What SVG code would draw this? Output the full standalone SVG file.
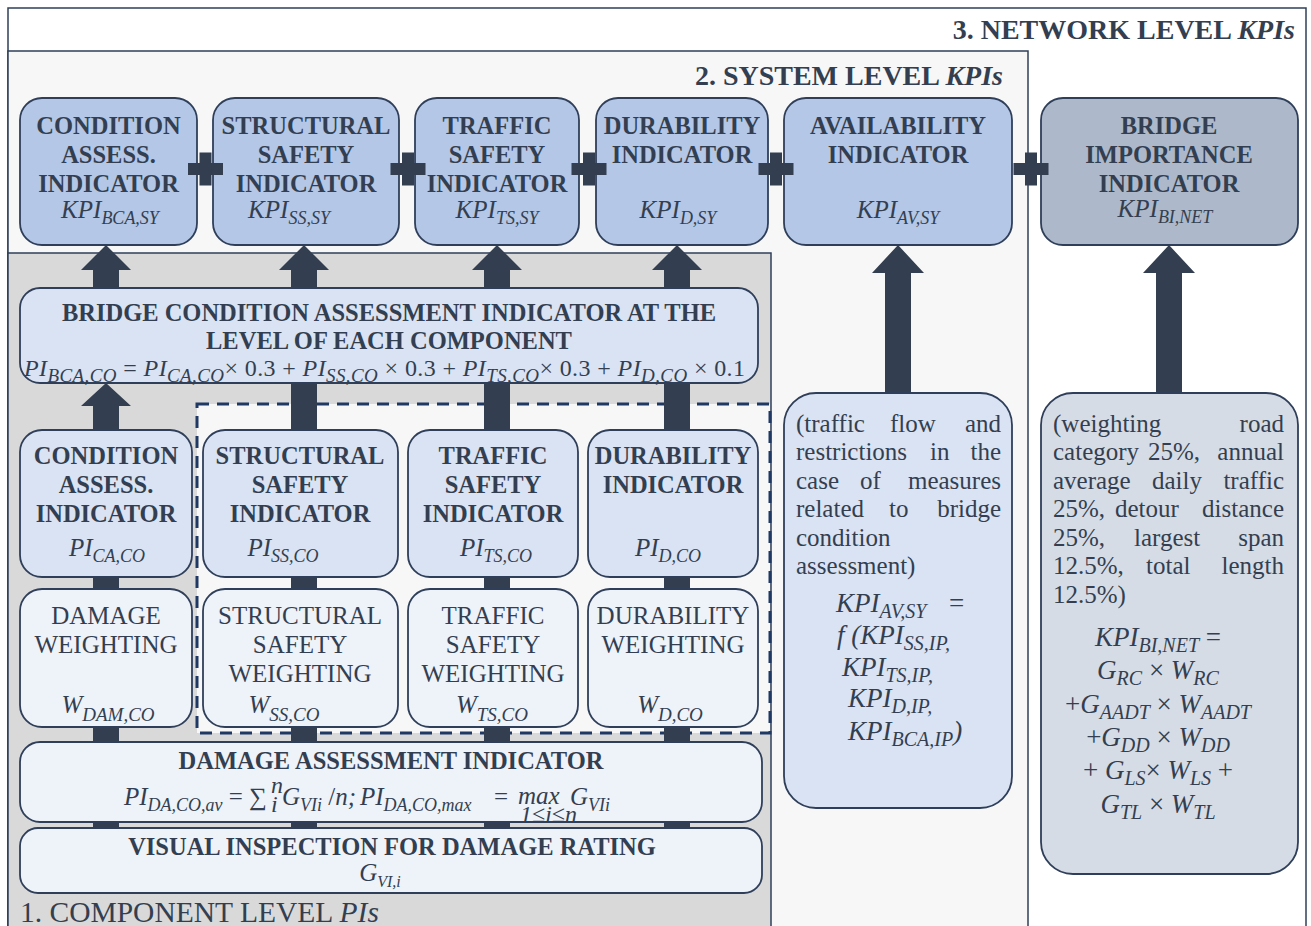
<svg xmlns="http://www.w3.org/2000/svg" width="1311" height="926" viewBox="0 0 1311 926">
<style>
text{font-family:"Liberation Serif","Times New Roman",serif;fill:#333f50}
.b{font-weight:bold;font-size:24.5px;text-anchor:middle}
.r{font-size:25px;text-anchor:middle}
.p{font-size:25px}
.e{font-size:25px;text-anchor:end}
.m{font-style:italic;font-size:27px}
.mc{font-style:italic;font-size:25px;text-anchor:middle}
.mb{font-style:italic;font-size:27px;text-anchor:middle}
.f{font-style:italic;font-size:24px}
.fd{font-style:italic;font-size:25px}
.s{font-size:18px}
.s2{font-size:20px}
.s3{font-size:19px}
.u{font-style:normal}
.t1{fill:#b4c7e7;stroke:#2f3f5a;stroke-width:1.8}
.t2{fill:#dae3f3;stroke:#2f3f5a;stroke-width:1.8}
.t3{fill:#eef2f9;stroke:#2f3f5a;stroke-width:1.8}
.g1{fill:#adb9ca;stroke:#2f3f5a;stroke-width:1.8}
.g2{fill:#d6dce5;stroke:#2f3f5a;stroke-width:1.8}
.k{fill:#333f50}
</style>
<defs>
<g id="plus"><rect x="-17.5" y="-6" width="35" height="12"/><rect x="-6" y="-16.5" width="12" height="33"/></g>
</defs>
<rect width="1311" height="926" fill="#ffffff"/>
<g id="frames">
<rect x="8" y="8" width="1298" height="940" fill="#ffffff" stroke="#2f3f5a" stroke-width="1.5"/>
<rect x="8" y="51" width="1020" height="900" fill="#f7f7f7" stroke="#2f3f5a" stroke-width="1.5"/>
<rect x="8" y="253" width="763" height="700" fill="#d9d9d9" stroke="#2f3f5a" stroke-width="1.5"/>
<rect x="197" y="404" width="573" height="329" fill="#f7f7f7" stroke="#1f3864" stroke-width="3" stroke-dasharray="12 8"/>
<text x="1295" y="39" font-size="28" font-weight="bold" text-anchor="end">3. NETWORK LEVEL <tspan font-style="italic">KPIs</tspan></text>
<text x="1003" y="85" font-size="28" font-weight="bold" text-anchor="end">2. SYSTEM LEVEL <tspan font-style="italic">KPIs</tspan></text>
<text x="20" y="922" font-size="29.5">1. COMPONENT LEVEL <tspan font-style="italic">PIs</tspan></text>
</g>
<g id="connectors" class="k">
<path d="M93,288V270H81L106,245L131,270H119V288Z"/>
<path d="M291,288V270H279L304,245L329,270H317V288Z"/>
<path d="M484,288V270H472L497,245L522,270H510V288Z"/>
<path d="M664,288V270H652L677,245L702,270H690V288Z"/>
<path d="M93,430V406H81L106,383L131,406H119V430Z"/>
<rect x="93" y="420" width="26" height="410"/>
<rect x="291" y="383" width="26" height="447"/>
<rect x="484" y="383" width="26" height="447"/>
<rect x="664" y="383" width="26" height="447"/>
<path d="M885,393V273H872L898,245L924,273H911V393Z"/>
<path d="M1156,393V273H1143L1169,245L1195,273H1182V393Z"/>
</g>
<g id="kpi-bca-sy">
<rect class="t1" x="20" y="98" width="177" height="147" rx="22"/>
<text class="b" x="108.5" y="134">CONDITION</text>
<text class="b" x="108.5" y="163">ASSESS.</text>
<text class="b" x="108.5" y="192">INDICATOR</text>
<text class="mc" x="110" y="218">KPI<tspan class="s" dy="6">BCA,SY</tspan></text>
</g>
<g id="kpi-ss-sy">
<rect class="t1" x="213" y="98" width="186" height="147" rx="22"/>
<text class="b" x="306" y="134">STRUCTURAL</text>
<text class="b" x="306" y="163">SAFETY</text>
<text class="b" x="306" y="192">INDICATOR</text>
<text class="mc" x="289" y="218">KPI<tspan class="s" dy="6">SS,SY</tspan></text>
</g>
<g id="kpi-ts-sy">
<rect class="t1" x="415" y="98" width="164" height="147" rx="22"/>
<text class="b" x="497" y="134">TRAFFIC</text>
<text class="b" x="497" y="163">SAFETY</text>
<text class="b" x="497" y="192">INDICATOR</text>
<text class="mc" x="497" y="218">KPI<tspan class="s" dy="6">TS,SY</tspan></text>
</g>
<g id="kpi-d-sy">
<rect class="t1" x="596" y="98" width="172" height="147" rx="22"/>
<text class="b" x="682" y="134">DURABILITY</text>
<text class="b" x="682" y="163">INDICATOR</text>
<text class="mc" x="678" y="218">KPI<tspan class="s" dy="6">D,SY</tspan></text>
</g>
<g id="kpi-av-sy">
<rect class="t1" x="784" y="98" width="228" height="147" rx="22"/>
<text class="b" x="898" y="134">AVAILABILITY</text>
<text class="b" x="898" y="163">INDICATOR</text>
<text class="mc" x="898" y="218">KPI<tspan class="s" dy="6">AV,SY</tspan></text>
</g>
<g id="kpi-bi-net">
<rect class="g1" x="1041" y="98" width="257" height="147" rx="22"/>
<text class="b" x="1169" y="134">BRIDGE</text>
<text class="b" x="1169" y="163">IMPORTANCE</text>
<text class="b" x="1169" y="192">INDICATOR</text>
<text class="mc" x="1165" y="217">KPI<tspan class="s" dy="6">BI,NET</tspan></text>
</g>
<g id="pi-bca-co">
<rect class="t2" x="20" y="288" width="738" height="95" rx="20"/>
<text class="b" x="389" y="321" font-size="25">BRIDGE CONDITION ASSESSMENT INDICATOR AT THE</text>
<text class="b" x="389" y="349" font-size="25">LEVEL OF EACH COMPONENT</text>
<text class="f" x="24" y="376" textLength="721" lengthAdjust="spacing">PI<tspan class="s3" dy="6">BCA,CO</tspan><tspan class="u" dy="-6">  = </tspan>PI<tspan class="s3" dy="6">CA,CO</tspan><tspan class="u" dy="-6">× 0.3 +  </tspan>PI<tspan class="s3" dy="6">SS,CO</tspan><tspan class="u" dy="-6">  × 0.3 + </tspan>PI<tspan class="s3" dy="6">TS,CO</tspan><tspan class="u" dy="-6">× 0.3 + </tspan>PI<tspan class="s3" dy="6">D,CO</tspan><tspan class="u" dy="-6"> × 0.1</tspan></text>
</g>
<g id="pi-ca-co">
<rect class="t2" x="20" y="430" width="172" height="147" rx="22"/>
<text class="b" x="106" y="464">CONDITION</text>
<text class="b" x="106" y="493">ASSESS.</text>
<text class="b" x="106" y="522">INDICATOR</text>
<text class="mc" x="107" y="556" font-size="26">PI<tspan class="s" dy="6">CA,CO</tspan></text>
</g>
<g id="pi-ss-co">
<rect class="t2" x="203" y="430" width="195" height="147" rx="22"/>
<text class="b" x="300" y="464">STRUCTURAL</text>
<text class="b" x="300" y="493">SAFETY</text>
<text class="b" x="300" y="522">INDICATOR</text>
<text class="mc" x="283" y="556" font-size="26">PI<tspan class="s" dy="6">SS,CO</tspan></text>
</g>
<g id="pi-ts-co">
<rect class="t2" x="408" y="430" width="170" height="147" rx="22"/>
<text class="b" x="493" y="464">TRAFFIC</text>
<text class="b" x="493" y="493">SAFETY</text>
<text class="b" x="493" y="522">INDICATOR</text>
<text class="mc" x="496" y="556" font-size="26">PI<tspan class="s" dy="6">TS,CO</tspan></text>
</g>
<g id="pi-d-co">
<rect class="t2" x="588" y="430" width="170" height="147" rx="22"/>
<text class="b" x="673" y="464">DURABILITY</text>
<text class="b" x="673" y="493">INDICATOR</text>
<text class="mc" x="668" y="556" font-size="26">PI<tspan class="s" dy="6">D,CO</tspan></text>
</g>
<g id="w-dam-co">
<rect class="t3" x="20" y="589" width="172" height="138" rx="22"/>
<text class="r" x="106" y="624">DAMAGE</text>
<text class="r" x="106" y="653">WEIGHTING</text>
<text class="mc" x="108" y="713" font-size="27">W<tspan class="s3" dy="8">DAM,CO</tspan></text>
</g>
<g id="w-ss-co">
<rect class="t3" x="203" y="589" width="195" height="138" rx="22"/>
<text class="r" x="300" y="624">STRUCTURAL</text>
<text class="r" x="300" y="653">SAFETY</text>
<text class="r" x="300" y="682">WEIGHTING</text>
<text class="mc" x="284" y="713" font-size="27">W<tspan class="s3" dy="8">SS,CO</tspan></text>
</g>
<g id="w-ts-co">
<rect class="t3" x="408" y="589" width="170" height="138" rx="22"/>
<text class="r" x="493" y="624">TRAFFIC</text>
<text class="r" x="493" y="653">SAFETY</text>
<text class="r" x="493" y="682">WEIGHTING</text>
<text class="mc" x="492" y="713" font-size="27">W<tspan class="s3" dy="8">TS,CO</tspan></text>
</g>
<g id="w-d-co">
<rect class="t3" x="588" y="589" width="170" height="138" rx="22"/>
<text class="r" x="673" y="624">DURABILITY</text>
<text class="r" x="673" y="653">WEIGHTING</text>
<text class="mc" x="670" y="713" font-size="27">W<tspan class="s3" dy="8">D,CO</tspan></text>
</g>
<g id="pi-da-co">
<rect class="t3" x="20" y="742" width="742" height="80" rx="20"/>
<text class="b" x="391" y="769" font-size="25">DAMAGE ASSESSMENT INDICATOR</text>
<text class="fd" x="124" y="805">PI<tspan class="s" dy="6">DA,CO,av</tspan><tspan class="u" dy="-6"> =</tspan></text>
<text class="fd" x="249" y="805"><tspan class="u">∑</tspan></text>
<text class="f" x="271" y="793" font-size="13">n</text>
<text class="f" x="271" y="812" font-size="13">i</text>
<text class="fd" x="282" y="805">G<tspan class="s" dy="6">VIi</tspan><tspan dy="-6"> <tspan class="u">/</tspan>n;</tspan></text>
<text class="fd" x="360" y="805">PI<tspan class="s" dy="6">DA,CO,max</tspan></text>
<text class="fd" x="494" y="805"><tspan class="u">=</tspan></text>
<text class="fd" x="518" y="804">max</text>
<text class="f" x="520" y="822" font-size="12">1≤i≤n</text>
<text class="fd" x="570" y="805">G<tspan class="s" dy="6">VIi</tspan></text>
</g>
<g id="g-vi">
<rect class="t3" x="20" y="828" width="742" height="65" rx="18"/>
<text class="b" x="392" y="855" font-size="25">VISUAL INSPECTION  FOR DAMAGE RATING</text>
<text class="mc" x="380" y="881" font-size="24">G<tspan font-size="16" dy="6">VI,i</tspan></text>
</g>
<g id="availability-input">
<rect class="t2" x="784" y="393" width="228" height="415" rx="32"/>
<text class="p" x="796" y="432">(traffic</text><text class="p" x="890" y="432">flow</text><text class="e" x="1001" y="432">and</text>
<text class="p" x="796" y="460">restrictions</text><text class="p" x="930" y="460">in</text><text class="e" x="1001" y="460">the</text>
<text class="p" x="796" y="489">case</text><text class="p" x="860" y="489">of</text><text class="e" x="1001" y="489">measures</text>
<text class="p" x="796" y="517">related</text><text class="p" x="889" y="517">to</text><text class="e" x="1001" y="517">bridge</text>
<text class="p" x="796" y="546">condition</text>
<text class="p" x="796" y="574">assessment)</text>
<text class="m" x="836" y="612">KPI<tspan class="s2" dy="6">AV,SY</tspan></text>
<text class="m" x="949" y="612"><tspan class="u">=</tspan></text>
<text class="m" x="837" y="644">f (KPI<tspan class="s2" dy="6">SS,IP,</tspan></text>
<text class="m" x="842" y="676">KPI<tspan class="s2" dy="6">TS,IP,</tspan></text>
<text class="m" x="848" y="707">KPI<tspan class="s2" dy="6">D,IP,</tspan></text>
<text class="m" x="848" y="740">KPI<tspan class="s2" dy="6">BCA,IP</tspan><tspan dy="-6">)</tspan></text>
</g>
<g id="importance-input">
<rect class="g2" x="1041" y="393" width="257" height="481" rx="32"/>
<text class="p" x="1053" y="432">(weighting</text><text class="e" x="1284" y="432">road</text>
<text class="p" x="1053" y="460">category</text><text class="p" x="1148" y="460">25%,</text><text class="e" x="1284" y="460">annual</text>
<text class="p" x="1053" y="489">average</text><text class="p" x="1152" y="489">daily</text><text class="e" x="1284" y="489">traffic</text>
<text class="p" x="1053" y="517">25%,</text><text class="p" x="1115" y="517">detour</text><text class="e" x="1284" y="517">distance</text>
<text class="p" x="1053" y="546">25%,</text><text class="p" x="1134" y="546">largest</text><text class="e" x="1284" y="546">span</text>
<text class="p" x="1053" y="574">12.5%,</text><text class="p" x="1146" y="574">total</text><text class="e" x="1284" y="574">length</text>
<text class="p" x="1053" y="603">12.5%)</text>
<text class="mb" x="1158" y="646">KPI<tspan class="s2" dy="6">BI,NET</tspan><tspan class="u" dy="-6"> =</tspan></text>
<text class="mb" x="1158" y="679">G<tspan class="s2" dy="6">RC</tspan><tspan class="u" dy="-6"> × </tspan>W<tspan class="s2" dy="6">RC</tspan></text>
<text class="mb" x="1158" y="713"><tspan class="u">+</tspan>G<tspan class="s2" dy="6">AADT</tspan><tspan class="u" dy="-6"> × </tspan>W<tspan class="s2" dy="6">AADT</tspan></text>
<text class="mb" x="1158" y="746"><tspan class="u">+</tspan>G<tspan class="s2" dy="6">DD</tspan><tspan class="u" dy="-6"> × </tspan>W<tspan class="s2" dy="6">DD</tspan></text>
<text class="mb" x="1158" y="779"><tspan class="u">+ </tspan>G<tspan class="s2" dy="6">LS</tspan><tspan class="u" dy="-6">× </tspan>W<tspan class="s2" dy="6">LS</tspan><tspan class="u" dy="-6"> +</tspan></text>
<text class="mb" x="1158" y="813">G<tspan class="s2" dy="6">TL</tspan><tspan class="u" dy="-6"> × </tspan>W<tspan class="s2" dy="6">TL</tspan></text>
</g>
<g id="operators" class="k">
<use href="#plus" x="205.5" y="169"/>
<use href="#plus" x="408" y="169"/>
<use href="#plus" x="589" y="169"/>
<use href="#plus" x="776" y="169"/>
<use href="#plus" x="1031" y="169"/>
</g>
</svg>
